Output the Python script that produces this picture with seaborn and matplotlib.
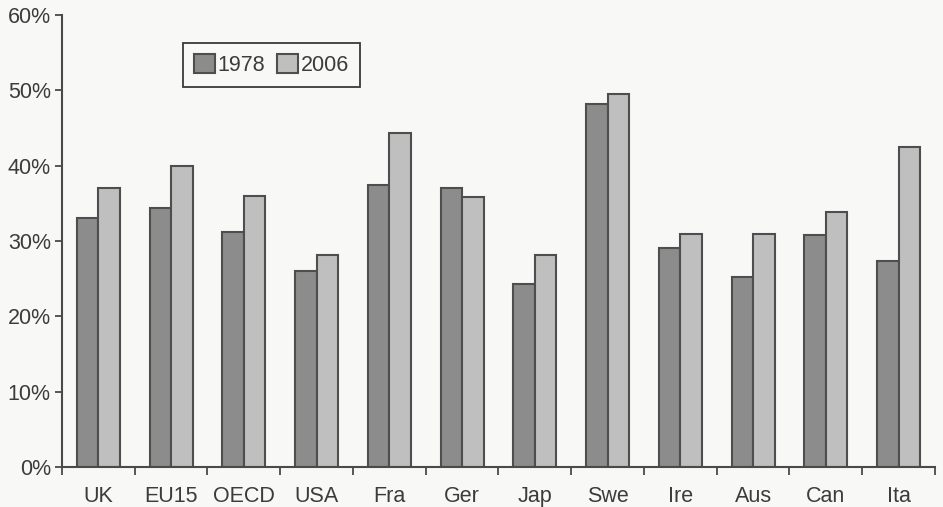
import matplotlib
matplotlib.use("Agg")
import matplotlib.pyplot as plt
import seaborn as sns
import pandas as pd
from matplotlib.ticker import FixedLocator, FuncFormatter

countries = ["UK", "EU15", "OECD", "USA", "Fra", "Ger", "Jap", "Swe", "Ire", "Aus", "Can", "Ita"]
share_1978 = [33.0, 34.4, 31.2, 26.0, 37.5, 37.0, 24.3, 48.2, 29.1, 25.2, 30.8, 27.4]
share_2006 = [37.1, 40.0, 36.0, 28.1, 44.4, 35.9, 28.2, 49.5, 30.9, 30.9, 33.8, 42.5]
years = ["1978", "2006"]
yticks = [0, 10, 20, 30, 40, 50, 60]

df = pd.DataFrame({
    "country": countries * 2,
    "year": [years[0]] * len(countries) + [years[1]] * len(countries),
    "share": share_1978 + share_2006,
})

sns.set_theme(style="white")
plt.rcParams["font.family"] = ["Liberation Sans", "DejaVu Sans"]
text_col = "#3c3c3c"
bg = "#f8f8f6"
fs = 15.5

fig = plt.figure(figsize=(9.43, 5.07), dpi=100, facecolor=bg)
ax = fig.add_axes([0.0657, 0.0789, 0.9258, 0.8915], facecolor=bg)

sns.barplot(
    data=df, x="country", y="share", hue="year", order=countries, hue_order=years,
    palette={"1978": "#8c8c8c", "2006": "#bfbfbf"}, width=0.59, saturation=1,
    edgecolor="#4e4e4e", linewidth=1.5, ax=ax, legend=True,
)

ax.set_xlim(-0.5, len(countries) - 0.5)
ax.set_ylim(0, 60)
ax.set_xlabel("")
ax.set_ylabel("")

for s in ["top", "right"]:
    ax.spines[s].set_visible(False)
for s in ["left", "bottom"]:
    ax.spines[s].set_color("#4a4a4a")
    ax.spines[s].set_linewidth(1.5)

ax.yaxis.set_major_locator(FixedLocator(yticks))
ax.yaxis.set_major_formatter(FuncFormatter(lambda v, p: f"{v:.0f}%"))
ax.tick_params(axis="y", which="major", direction="out", length=5, width=1.3,
               color="#4a4a4a", labelsize=fs, labelcolor=text_col, pad=3, left=True)

# Category labels centered under groups, tick marks on group boundaries
ax.tick_params(axis="x", which="major", length=0, labelsize=fs, labelcolor=text_col, pad=14)
ax.xaxis.set_minor_locator(FixedLocator([i - 0.5 for i in range(len(countries) + 1)]))
ax.tick_params(axis="x", which="minor", direction="out", length=6, width=1.3,
               color="#4a4a4a", bottom=True)

leg = ax.legend(
    loc="upper left", bbox_to_anchor=(0.194, 0.915), bbox_transform=fig.transFigure,
    ncol=2, frameon=True, fontsize=fs, handlelength=1.0, handleheight=1.0,
    handletextpad=0.1, columnspacing=0.55, borderpad=0.5, borderaxespad=0,
    fancybox=False, labelcolor=text_col,
)
leg.get_frame().set_edgecolor("#3a3a3a")
leg.get_frame().set_linewidth(1.3)
leg.get_frame().set_facecolor(bg)
leg.get_frame().set_alpha(1)

fig.savefig("out.png", dpi=100, facecolor=bg)
